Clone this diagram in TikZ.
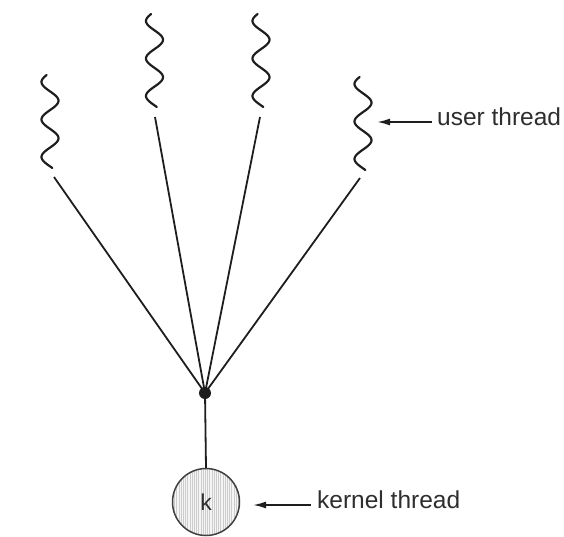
\documentclass[tikz,border=0pt]{standalone}
\usepackage{fontspec}
\setmainfont{Liberation Sans}
\usetikzlibrary{arrows.meta}
\definecolor{ink}{HTML}{1E1E1E}
\definecolor{txt}{HTML}{2E2E2E}
% one wavy user thread: centre x, top y (period 37.5, so 9.6 degrees per unit)
\newcommand\userwave[2]{%
  \draw[wave] plot[domain=0:93,samples=90,smooth]
    ({#1-8.5*sin(9.6*(\x+2.4))},{#2+\x});}
\begin{document}
\begin{tikzpicture}[x=1pt,y=-1pt,
  wave/.style={line width=2.2pt, draw=ink, line cap=round},
  link/.style={line width=1.8pt, draw=ink},
  pointer/.style={line width=1.8pt, draw=ink, -{Latex[length=13pt,width=7pt]}},
  lbl/.style={font=\fontsize{24.5}{28}\selectfont, text=txt, anchor=mid west, inner sep=0pt}]
\useasboundingbox (0,0) rectangle (564,536);

% user threads
\userwave{50}{75}
\userwave{154.5}{14}
\userwave{261}{14}
\userwave{363}{77}

% line starts just below each thread
\coordinate (a1) at (54,177);
\coordinate (a2) at (155,117);
\coordinate (a3) at (260,117);
\coordinate (a4) at (360,178);

% junction point
\node[circle, fill=ink, minimum size=12pt, inner sep=0pt] (hub) at (205,393) {};

% kernel thread
\node[circle, draw=ink!85, line width=1.5pt, minimum size=67pt, inner sep=0pt,
      font=\fontsize{23}{27}\selectfont, text=txt,
      path picture={
        \fill[gray!8] (path picture bounding box.south west) rectangle (path picture bounding box.north east);
        \foreach \i in {-36,-33.8,...,36}
          \draw[gray!40, line width=0.6pt]
            ([xshift=\i pt]path picture bounding box.north) -- ([xshift=\i pt]path picture bounding box.south);
      }] (k) at (206,502) {k};

\draw[link] (a1) -- (hub.center);
\draw[link] (a2) -- (hub.center);
\draw[link] (a3) -- (hub.center);
\draw[link] (a4) -- (hub.center);
\draw[link] (hub.center) -- (k.north);

% labels
\node[lbl] (ulbl) at (437,123) {user thread};
\coordinate (utail) at (432,122);
\coordinate (utip) at (377,122);
\draw[pointer] (utail) -- (utip);

\node[lbl] (klbl) at (317,506) {kernel thread};
\coordinate (ktail) at (311,505);
\coordinate (ktip) at (253,505);
\draw[pointer] (ktail) -- (ktip);
\end{tikzpicture}
\end{document}
